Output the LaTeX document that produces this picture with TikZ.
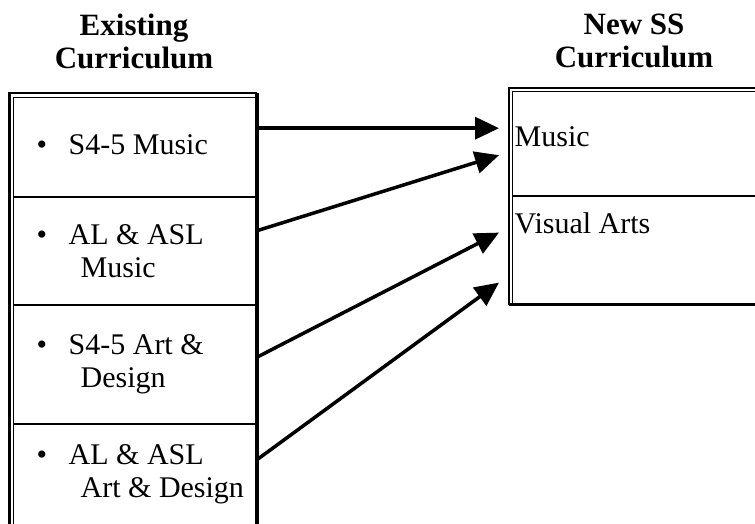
\documentclass[tikz,border=0pt]{standalone}
\usepackage{fontspec}
\setmainfont{Liberation Serif}
\usetikzlibrary{arrows.meta,positioning}

\newcommand{\bul}{\hspace*{23pt}\makebox[32pt][l]{\textbullet}}
\newcommand{\nxt}{\\\hspace*{67pt}}

\begin{document}
\begin{tikzpicture}[x=1pt,y=1pt,>={Triangle[length=24pt,width=22pt]},
    cell/.style={inner sep=0pt,text width=243.5pt,minimum height=#1,align=left,
      font=\fontsize{30}{33}\selectfont,
      execute at begin node={\spaceskip=.25em\relax}},
    slot/.style={inner sep=0pt,minimum width=243.5pt,minimum height=#1},
    entry/.style={inner sep=0pt,anchor=base west,font=\fontsize{30}{33}\selectfont},
    head/.style={inner sep=0pt,align=center,anchor=north,
      font=\fontsize{31}{33}\selectfont\bfseries,
      execute at begin node={\spaceskip=.25em\relax}},
    link/.style={->,line width=3.5pt},
    rule/.style={line width=#1}]
  \useasboundingbox (0,0) rectangle (755,524);

  \node[head] (old) at (134,510) {Existing\\Curriculum};
  \node[head] (new) at (634,510) {New SS\\Curriculum};

  % existing subjects
  \node[cell=104pt,anchor=north west] (r1) at (13.5,431) {\bul S4-5 Music};
  \node[cell=107pt,below=0pt of r1] (r2) {\bul AL \& ASL\nxt Music};
  \node[cell=119pt,below=0pt of r2] (r3) {\bul S4-5 Art \&\nxt Design};
  \node[cell=100pt,below=0pt of r3] (r4) {\bul AL \& ASL\nxt Art \& Design};

  % new subjects
  \node[slot=104pt,anchor=north west] (m1) at (512.5,432) {};
  \node[slot=108pt,below=0pt of m1] (m2) {};
  \node[entry] (music) at ([shift={(2pt,-55pt)}]m1.north west) {Music};
  \node[entry] (arts) at ([shift={(2pt,-37pt)}]m2.north west) {Visual Arts};

  % table rules
  \draw[rule=2.5pt] ([xshift=-4pt]r4.south west) |- (r1.north east);
  \draw[rule=1pt] (r4.south west) |- ([yshift=-4.5pt]r1.north east);
  \draw[rule=4pt] (r1.north east) -- (r4.south east);
  \draw[rule=1.5pt] ([xshift=-4pt]r4.south west) -- (r4.south east);
  \foreach \r in {r1,r2,r3}
    \draw[rule=2pt] (\r.south west) -- (\r.south east);

  \draw[rule=2.5pt] ([xshift=-3.5pt]m2.south west) |- ([yshift=4pt]m1.north east);
  \draw[rule=1pt] (m2.south west) |- (m1.north east);
  \draw[rule=2pt] (m1.south west) -- (m1.south east);
  \draw[rule=3pt] ([xshift=-3.5pt]m2.south west) -- (m2.south east);

  \draw[link] ([yshift=17pt]r1.east) -- ([shift={(-13.5pt,16pt)}]m1.west);
  \draw[link] ([yshift=20.5pt]r2.east) -- ([shift={(-13.5pt,-11pt)}]m1.west);
  \draw[link] ([yshift=7.5pt]r3.east) -- ([shift={(-13.5pt,18pt)}]m2.west);
  \draw[link] ([yshift=15pt]r4.east) -- ([shift={(-13.5pt,-32pt)}]m2.west);
\end{tikzpicture}
\end{document}
